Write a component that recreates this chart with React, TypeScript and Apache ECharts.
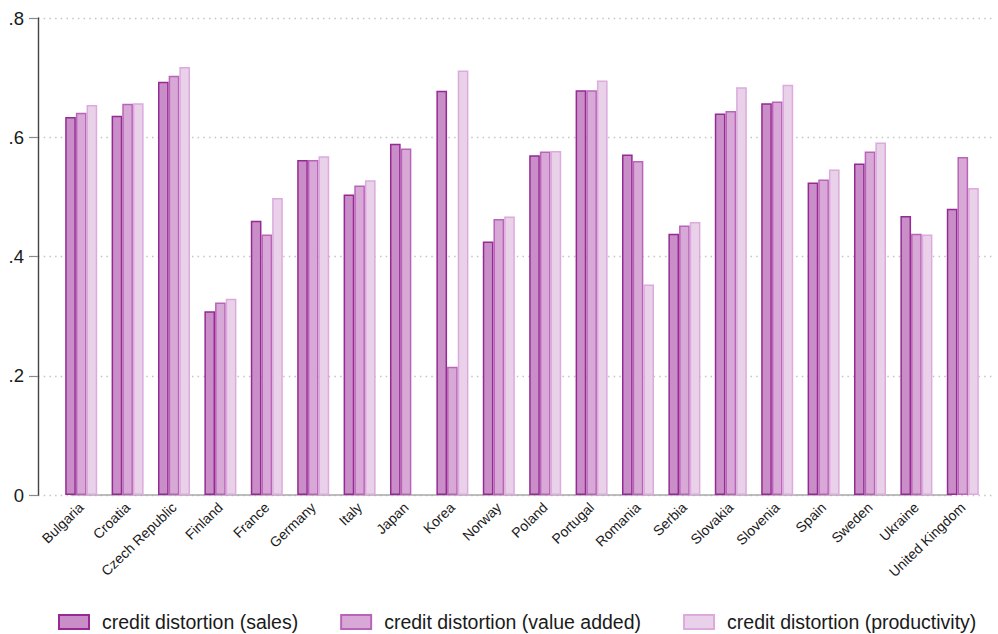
import { useEffect, useRef } from "react";
import * as echarts from "echarts";

// Countries along the category axis
const countries = [
  "Bulgaria", "Croatia", "Czech Republic", "Finland", "France", "Germany",
  "Italy", "Japan", "Korea", "Norway", "Poland", "Portugal", "Romania",
  "Serbia", "Slovakia", "Slovenia", "Spain", "Sweden", "Ukraine", "United Kingdom",
];

// Credit distortion measures per country
const salesValues = [
  0.634, 0.636, 0.693, 0.308, 0.460, 0.562, 0.504, 0.589, 0.678, 0.425,
  0.570, 0.679, 0.571, 0.438, 0.640, 0.657, 0.524, 0.556, 0.468, 0.480,
];
const valueAddedValues = [
  0.641, 0.656, 0.703, 0.323, 0.437, 0.562, 0.519, 0.581, 0.215, 0.463,
  0.576, 0.679, 0.560, 0.452, 0.644, 0.660, 0.529, 0.576, 0.438, 0.567,
];
const productivityValues: (number | null)[] = [
  0.654, 0.657, 0.718, 0.329, 0.498, 0.568, 0.528, null, 0.712, 0.467,
  0.577, 0.695, 0.353, 0.458, 0.684, 0.688, 0.546, 0.591, 0.437, 0.515,
];

const seriesNames = [
  "credit distortion (sales)",
  "credit distortion (value added)",
  "credit distortion (productivity)",
];

const yMin = 0;
const yMax = 0.8;
const yStep = 0.2;

const fills = ["#c98dc7", "#d8a9d6", "#ead1ea"];
const borders = ["#952a94", "#b964b9", "#dcaadc"];

export default function App() {
  const ref = useRef<HTMLDivElement>(null);

  useEffect(() => {
    if (!ref.current) return;
    const chart = echarts.init(ref.current, null, { renderer: "svg" });
    const font = "'Liberation Sans', Arial, Helvetica, sans-serif";
    const gridTop = 18;
    const gridBottom = 139;

    const data = [salesValues, valueAddedValues, productivityValues];

    chart.setOption({
      animation: false,
      textStyle: { fontFamily: font },
      grid: [
        // frame carrying the value axis and dotted gridlines
        { left: 38, right: 3, top: gridTop, bottom: gridBottom },
        // inner frame holding the grouped bars
        { left: 58, right: 12, top: gridTop, bottom: gridBottom },
      ],
      xAxis: [
        { type: "value", gridIndex: 0, show: false, min: 0, max: 1 },
        {
          type: "category",
          gridIndex: 1,
          data: countries,
          axisLine: { show: false },
          axisTick: { show: false },
          axisLabel: {
            rotate: 44,
            margin: 10,
            fontSize: 14,
            color: "#1a1a1a",
            fontFamily: font,
            interval: 0,
          },
        },
      ],
      yAxis: [
        {
          type: "value",
          gridIndex: 0,
          min: yMin,
          max: yMax,
          interval: yStep,
          axisLine: { show: true, lineStyle: { color: "#444444", width: 1.4 } },
          axisTick: { show: true, length: 9, lineStyle: { color: "#8a8a8a", width: 1.2 } },
          axisLabel: {
            fontSize: 18.5,
            color: "#1a1a1a",
            margin: 14,
            fontFamily: font,
            formatter: (v: number) => (Math.abs(v) < 1e-9 ? "0" : v.toFixed(1).replace(/^0/, "")),
          },
          splitLine: {
            show: true,
            lineStyle: { color: "#c4c4c4", width: 1.3, type: [1.5, 4.2] },
          },
        },
        {
          type: "value",
          gridIndex: 1,
          min: yMin,
          max: yMax,
          interval: yStep,
          show: false,
          splitLine: { show: false },
        },
      ],
      legend: {
        left: 58,
        top: 612,
        padding: 0,
        icon: "rect",
        itemWidth: 30,
        itemHeight: 14,
        itemGap: 42,
        textStyle: { fontSize: 19.5, color: "#1a1a1a", fontFamily: font, padding: [0, 0, 0, 8] },
        data: seriesNames,
      },
      series: seriesNames.map((name, i) => ({
        name,
        type: "bar",
        xAxisIndex: 1,
        yAxisIndex: 1,
        data: data[i],
        barGap: "0%",
        barCategoryGap: "31%",
        itemStyle: { color: fills[i], borderColor: borders[i], borderWidth: 1.5 },
        emphasis: { disabled: true },
        ...(i === 0
          ? {
              markLine: {
                silent: true,
                symbol: ["none", "none"],
                label: { show: false },
                lineStyle: { color: "#a8a8a8", type: "solid", width: 1.5 },
                data: [
                  [
                    { coord: [countries[0], 0] },
                    { coord: [countries[countries.length - 1], 0] },
                  ],
                ],
                z: 1,
              },
            }
          : {}),
      })),
    });

    return () => chart.dispose();
  }, []);

  return (
    <div
      ref={ref}
      style={{ position: "fixed", left: 0, top: 0, width: 998, height: 634, background: "#fff" }}
    />
  );
}
